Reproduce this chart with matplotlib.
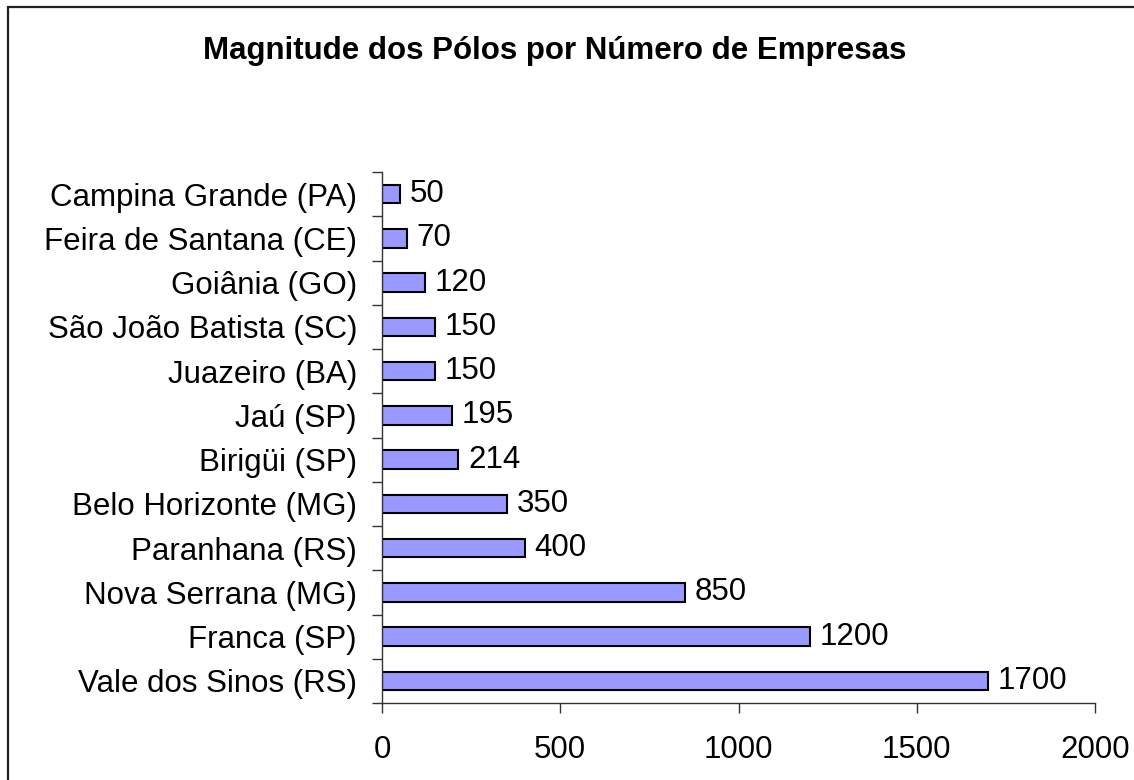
import matplotlib
matplotlib.use("Agg")
import matplotlib.pyplot as plt
from matplotlib.patches import Rectangle
import numpy as np

categories = ["Vale dos Sinos (RS)", "Franca (SP)", "Nova Serrana (MG)", "Paranhana (RS)",
              "Belo Horizonte (MG)", "Birigüi (SP)", "Jaú (SP)", "Juazeiro (BA)",
              "São João Batista (SC)", "Goiânia (GO)", "Feira de Santana (CE)", "Campina Grande (PA)"]
values = [1700, 1200, 850, 400, 350, 214, 195, 150, 150, 120, 70, 50]
xticks = [0, 500, 1000, 1500, 2000]
title = "Magnitude dos Pólos por Número de Empresas"

plt.rcParams['font.family'] = ['Liberation Sans', 'DejaVu Sans']

fig = plt.figure(figsize=(11.34, 7.8), dpi=100)
ax = fig.add_axes([382/1134, 1-703/780, (1095-382)/1134, (703-172)/780])

y = np.arange(len(categories))
bars = ax.barh(y, values, height=0.42, color="#9999FF", edgecolor="black", linewidth=1.5)
for yi, v in zip(y, values):
    ax.text(v + 27, yi, str(v), va="center", ha="left", fontsize=22.5)

ax.set_xlim(0, 2000)
ax.set_ylim(-0.5, len(categories) - 0.5)
ax.set_xticks(xticks)
ax.set_xticklabels([str(t) for t in xticks], fontsize=22.5)
ax.set_yticks(y)
ax.set_yticklabels(categories, fontsize=22.5)
ax.set_yticks(np.arange(len(categories) + 1) - 0.5, minor=True)
ax.tick_params(axis='y', which='major', length=0, pad=18)
ax.tick_params(axis='y', which='minor', length=7, width=1, color='#333333', direction='out')
ax.tick_params(axis='x', which='major', length=7, width=1, color='#333333', direction='out', pad=16)
for s in ['top', 'right']:
    ax.spines[s].set_visible(False)
for s in ['left', 'bottom']:
    ax.spines[s].set_color('#333333')
    ax.spines[s].set_linewidth(1)

fig.text(555/1134, 1-59/780, title, ha="center", va="baseline", fontsize=22.5, fontweight="bold")

fig.patches.append(Rectangle((7.5/1134, -0.1), 1.2, 1 - 7.5/780 + 0.1, transform=fig.transFigure,
                             fill=False, edgecolor="#222222", linewidth=1.6, clip_on=False))

fig.savefig("out.png", dpi=100)
